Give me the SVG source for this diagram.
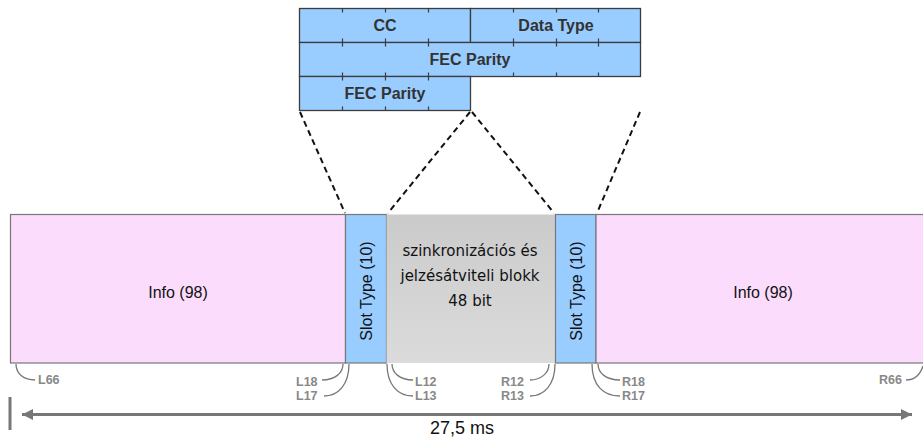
<svg xmlns="http://www.w3.org/2000/svg" width="923" height="439" viewBox="0 0 923 439">
  <defs>
    <linearGradient id="grayFill" x1="0" y1="0" x2="0" y2="1">
      <stop offset="0" stop-color="#cbcbcb"/>
      <stop offset="1" stop-color="#dbdbdb"/>
    </linearGradient>
    <marker id="arrowHead" viewBox="0 0 10 10" refX="10" refY="5" markerWidth="11" markerHeight="11" markerUnits="userSpaceOnUse" orient="auto-start-reverse">
      <path d="M0,0 L10,5 L0,10 Z" fill="#777"/>
    </marker>
  </defs>
  <style>
    .cell { fill: #99ccff; stroke: #3c3c3c; stroke-width: 1.3; }
    .tick { stroke: #3c3c3c; stroke-width: 1.2; }
    .hdr { font-family: "Liberation Sans", Arial, sans-serif; font-weight: bold; font-size: 16px; fill: #333; text-anchor: middle; }
    .bar { stroke: #777; stroke-width: 1.2; }
    .info { fill: #fcdcfc; }
    .slot { fill: #99ccff; }
    .lbl { font-family: "Liberation Sans", Arial, sans-serif; font-size: 16px; fill: #111; text-anchor: middle; }
    .mid { font-family: "DejaVu Sans", sans-serif; font-size: 15px; fill: #111; text-anchor: middle; }
    .dash { stroke: #111; stroke-width: 2; stroke-dasharray: 6 4; fill: none; }
    .lead { stroke: #777; stroke-width: 1.3; fill: none; }
    .tag { font-family: "Liberation Sans", Arial, sans-serif; font-weight: bold; font-size: 12.5px; fill: #888; }
    .dim { stroke: #777; stroke-width: 3; fill: none; }
  </style>

  <!-- expanded slot-type word -->
  <g id="slot-type-fields">
    <rect class="cell" x="299.5" y="8.5" width="171" height="34"/>
    <rect class="cell" x="470.5" y="8.5" width="170" height="34"/>
    <rect class="cell" x="299.5" y="42.5" width="341" height="34"/>
    <rect class="cell" x="299.5" y="76.5" width="171" height="34"/>
    <path class="tick" d="M342.5,8.5v4M385.5,8.5v4M428.5,8.5v4M513.5,8.5v4M556.5,8.5v4M598.5,8.5v4
      M342.5,42.5v-4M385.5,42.5v-4M428.5,42.5v-4M513.5,42.5v-4M556.5,42.5v-4M598.5,42.5v-4
      M342.5,42.5v4M385.5,42.5v4M428.5,42.5v4M513.5,42.5v4M556.5,42.5v4M598.5,42.5v4
      M342.5,76.5v-4M385.5,76.5v-4M428.5,76.5v-4M513.5,76.5v-4M556.5,76.5v-4M598.5,76.5v-4
      M342.5,76.5v4M385.5,76.5v4M428.5,76.5v4
      M342.5,110.5v-4M385.5,110.5v-4M428.5,110.5v-4"/>
    <text class="hdr" x="385" y="31">CC</text>
    <text class="hdr" x="556" y="31">Data Type</text>
    <text class="hdr" x="470" y="65">FEC Parity</text>
    <text class="hdr" x="385" y="99">FEC Parity</text>
  </g>

  <!-- burst blocks -->
  <g id="info-left">
    <rect class="info bar" x="10.5" y="214.5" width="335" height="148.5"/>
    <text class="lbl" x="178" y="297.5">Info (98)</text>
  </g>
  <g id="slot-type-left">
    <rect class="slot bar" x="345.5" y="214.5" width="41" height="148.5"/>
    <text class="lbl" transform="translate(371.5,291) rotate(-90)">Slot Type (10)</text>
  </g>
  <g id="sync-block">
    <rect x="386.5" y="214.5" width="169" height="148.5" fill="url(#grayFill)"/>
    <text class="mid" x="470" y="256">szinkronizációs és</text>
    <text class="mid" x="470" y="281">jelzésátviteli blokk</text>
    <text class="mid" x="470" y="306">48 bit</text>
  </g>
  <g id="slot-type-right">
    <rect class="slot bar" x="555.5" y="214.5" width="40.5" height="148.5"/>
    <text class="lbl" transform="translate(581.5,291) rotate(-90)">Slot Type (10)</text>
  </g>
  <g id="info-right">
    <rect class="info bar" x="596" y="214.5" width="335" height="148.5"/>
    <text class="lbl" x="763" y="297.5">Info (98)</text>
  </g>

  <!-- connectors -->
  <g id="connectors">
    <path class="dash" d="M300,112 L345,213"/>
    <path class="dash" d="M470,112 L388,213"/>
    <path class="dash" d="M472,112 L554,213"/>
    <path class="dash" d="M640,112 L597,213"/>

    <path class="lead" d="M16,364 C16,374 24,380 35,380"/>
    <path class="lead" d="M343,364 C343,373 335,380 322,380"/>
    <path class="lead" d="M349,364 C349,385 338,396 324,396"/>
    <path class="lead" d="M392,364 C392,373 400,380 413,380"/>
    <path class="lead" d="M387,364 C387,385 398,396 413,396"/>
    <path class="lead" d="M549,364 C549,373 541,380 530,380"/>
    <path class="lead" d="M555,364 C555,385 544,396 530,396"/>
    <path class="lead" d="M598,364 C598,373 606,380 620,380"/>
    <path class="lead" d="M592,364 C592,385 603,396 620,396"/>
    <path class="lead" d="M906,380 C914,380 920,375 923,366"/>

    <path class="dim" d="M10,397 V430"/>
    <path class="dim" d="M22,414.5 H912" marker-start="url(#arrowHead)" marker-end="url(#arrowHead)"/>
  </g>

  <g id="labels">
    <text class="tag" x="38" y="384">L66</text>
    <text class="tag" x="296" y="386">L18</text>
    <text class="tag" x="296" y="400">L17</text>
    <text class="tag" x="415" y="386">L12</text>
    <text class="tag" x="415" y="400">L13</text>
    <text class="tag" x="501" y="386">R12</text>
    <text class="tag" x="501" y="400">R13</text>
    <text class="tag" x="622" y="386">R18</text>
    <text class="tag" x="622" y="400">R17</text>
    <text class="tag" x="879" y="384">R66</text>
    <text x="462" y="434" font-family="Liberation Sans, Arial, sans-serif" font-size="18" fill="#111" text-anchor="middle">27,5 ms</text>
  </g>
</svg>
